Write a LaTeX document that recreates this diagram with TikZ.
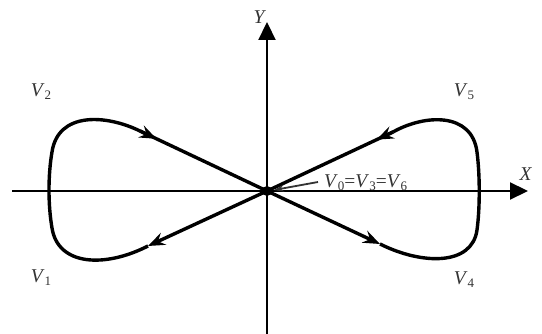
\documentclass[tikz,border=0pt]{standalone}
\usepackage{fontspec}
\setmainfont{Liberation Serif}
\usetikzlibrary{arrows.meta,calc}
\newcommand{\Vs}[1]{\textit{V}\raisebox{-0.35ex}{\fontsize{13}{13}\selectfont #1}}
\begin{document}
\begin{tikzpicture}[x=1pt,y=-1pt,
  axis/.style={line width=2.2pt,-{Triangle[length=18pt,width=17pt]}},
  lobe/.style={line width=3.4pt,line join=round},
  flow/.style={lobe,-{Stealth[length=17pt,width=13pt,inset=6pt]}},
  lbl/.style={font=\fontsize{19.5}{21}\selectfont,text=black!80,inner sep=0pt}]
\useasboundingbox (0,0) rectangle (542,334);
% axes
\coordinate (O) at (267,191);
\coordinate (xl) at (12,191);
\coordinate (xr) at (528,191);
\coordinate (yb) at (267,334);
\coordinate (yt) at (267,22);
\draw[axis] (xl) -- (xr);
\draw[axis] (yb) -- (yt);
% left lobe
\coordinate (la) at (148,246);
\coordinate (lb) at (140,131);
\draw[flow] (O) -- (la);
\draw[lobe] (la) .. controls (105,268) and (58,266) .. (52,228)
  .. controls (48,205) and (48,175) .. (52,152)
  .. controls (58,112) and (105,114) .. (lb);
\draw[flow] (lb) -- ($(lb)!0.13!(O)$);
\draw[lobe] (lb) -- (O);
% right lobe
\coordinate (ra) at (380,244);
\coordinate (rb) at (393,132);
\draw[flow] (O) -- (ra);
\draw[lobe] (ra) .. controls (422,265) and (472,266) .. (477,230)
  .. controls (480,208) and (480,175) .. (477,152)
  .. controls (472,112) and (425,114) .. (rb);
\draw[flow] (rb) -- ($(rb)!0.13!(O)$);
\draw[lobe] (rb) -- (O);
% center dot
\fill (O) circle (5pt);
% labels
\node[lbl] (Y) at (260,17) {\textit{Y}};
\node[lbl] (X) at (526,174) {\textit{X}};
\node[lbl] (V2) at (41,92) {\Vs{2}};
\node[lbl] (V1) at (41,278) {\Vs{1}};
\node[lbl] (V5) at (464,92) {\Vs{5}};
\node[lbl] (V4) at (464,280) {\Vs{4}};
\node[lbl,anchor=west] (V0) at (324,183) {\Vs{0}=\Vs{3}=\Vs{6}};
\draw[line width=1.8pt,black!80,-{Stealth[length=10pt,width=7pt]}] ($(V0.west)+(-6,-1)$) -- (274,190);
\end{tikzpicture}
\end{document}
